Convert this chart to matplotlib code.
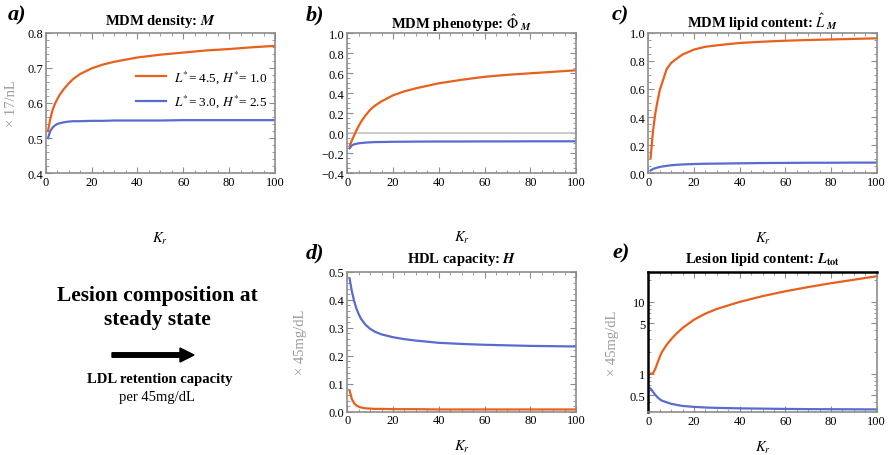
import numpy as np
import matplotlib
matplotlib.use("Agg")
import matplotlib.pyplot as plt
from matplotlib.ticker import MultipleLocator, FixedLocator, NullFormatter

plt.rcParams["font.family"] = ["Liberation Serif", "DejaVu Serif"]
plt.rcParams["mathtext.fontset"] = "stix"

ORANGE = "#e8601c"
BLUE = "#5a6bd0"
FRAME = "#8c8c8c"

# retention capacity K_r
kr = [1, 2, 3, 4, 5, 6, 8, 10, 12, 15, 20, 25, 30, 40, 50, 60, 70, 80, 90, 100]

# a) MDM density M
m_or = [0.520, 0.555, 0.580, 0.597, 0.610, 0.622, 0.640, 0.655, 0.668, 0.682, 0.698,
        0.709, 0.717, 0.729, 0.737, 0.743, 0.749, 0.753, 0.758, 0.762]
m_bl = [0.500, 0.520, 0.530, 0.536, 0.540, 0.542, 0.545, 0.547, 0.548, 0.548, 0.549,
        0.549, 0.550, 0.550, 0.550, 0.551, 0.551, 0.551, 0.551, 0.551]

# b) MDM phenotype
phi_or = [-0.13, -0.07, -0.02, 0.03, 0.075, 0.115, 0.18, 0.235, 0.275, 0.32, 0.38,
          0.42, 0.45, 0.50, 0.535, 0.565, 0.585, 0.60, 0.615, 0.63]
phi_bl = [-0.15, -0.12, -0.11, -0.105, -0.10, -0.097, -0.093, -0.09, -0.088, -0.087, -0.085,
          -0.084, -0.083, -0.082, -0.082, -0.081, -0.081, -0.080, -0.080, -0.080]

# c) MDM lipid content
lm_or = [0.11, 0.29, 0.42, 0.51, 0.59, 0.64, 0.74, 0.785, 0.81, 0.845, 0.88,
         0.90, 0.91, 0.927, 0.936, 0.943, 0.948, 0.952, 0.956, 0.96]
lm_bl = [0.020, 0.030, 0.036, 0.041, 0.045, 0.048, 0.053, 0.057, 0.060, 0.063, 0.066,
         0.068, 0.069, 0.071, 0.073, 0.074, 0.075, 0.075, 0.076, 0.076]

# d) HDL capacity H
h_or = [0.075, 0.045, 0.030, 0.022, 0.018, 0.015, 0.012, 0.011, 0.010, 0.010, 0.009,
        0.009, 0.009, 0.008, 0.008, 0.008, 0.008, 0.008, 0.008, 0.008]
h_bl = [0.475, 0.430, 0.395, 0.368, 0.348, 0.332, 0.310, 0.296, 0.286, 0.276, 0.266,
        0.259, 0.254, 0.246, 0.242, 0.239, 0.237, 0.235, 0.234, 0.233]

# e) lesion lipid content L_tot
lt_or = [1.0, 1.0, 1.15, 1.4, 1.7, 2.0, 2.5, 3.0, 3.5, 4.3, 5.6,
         6.8, 7.9, 9.9, 11.9, 13.9, 15.9, 18.0, 20.1, 22.5]
lt_bl = [0.62, 0.56, 0.51, 0.47, 0.44, 0.42, 0.40, 0.38, 0.37, 0.355, 0.345,
         0.338, 0.334, 0.329, 0.326, 0.323, 0.321, 0.320, 0.319, 0.318]

legend_labels = [r"$L^{*}$= 4.5, $H^{*}$= 1.0", r"$L^{*}$= 3.0, $H^{*}$= 2.5"]

W, H = 888, 456
fig = plt.figure(figsize=(W / 100, H / 100), dpi=100)


def px_axes(x0, y0, x1, y1):
    return fig.add_axes([x0 / W, 1 - y1 / H, (x1 - x0) / W, (y1 - y0) / H])


def style(ax, ylim, ymaj, ymin, ylab_x=None, ylabel=None):
    ax.set_xlim(0, 100)
    ax.set_ylim(*ylim)
    ax.xaxis.set_major_locator(MultipleLocator(20))
    ax.xaxis.set_minor_locator(MultipleLocator(5))
    if ymaj is not None:
        ax.yaxis.set_major_locator(MultipleLocator(ymaj))
        ax.yaxis.set_minor_locator(MultipleLocator(ymin))
    for s in ax.spines.values():
        s.set_color(FRAME)
        s.set_linewidth(1.2)
    ax.tick_params(which="both", direction="in", top=True, right=True,
                   color=FRAME, labelsize=9, pad=2)
    ax.tick_params(which="major", length=4, width=0.8)
    ax.tick_params(which="minor", length=2, width=0.6)
    ax.set_xlabel(r"$K_r$", fontsize=10.5)
    if ylabel:
        ax.set_ylabel(ylabel, color="#9a9a9a", fontsize=10.5)
        ax.yaxis.set_label_coords(ylab_x, 0.5)


def fmt1(v, pos):
    return f"{v:.1f}"


lw = 1.6
axes_px = {
    "a": (45.7, 33.5, 275, 174.3),
    "b": (347.3, 34.3, 576, 174.3),
    "c": (648.3, 33.7, 876.7, 174.3),
    "d": (347.3, 272.7, 576, 412.7),
    "e": (648.3, 272.7, 876.7, 413.3),
}
top_xlab = -0.40
bot_xlab = -0.19

# a
ax = px_axes(*axes_px["a"])
ax.plot(kr, m_or, color=ORANGE, lw=lw, label=legend_labels[0])
ax.plot(kr, m_bl, color=BLUE, lw=lw, label=legend_labels[1])
style(ax, (0.4, 0.8), 0.1, 0.02, -0.12, "× 17/nL")
ax.yaxis.set_major_formatter(fmt1)
ax.xaxis.set_label_coords(0.5, top_xlab)
ax.set_title(r"MDM density: $\boldsymbol{M}$", fontsize=10.5, fontweight="bold", pad=6)
ax.legend(loc="upper left", bbox_to_anchor=(0.34, 0.83), frameon=False, fontsize=9.5,
          handlelength=2.3, handletextpad=0.6, labelspacing=0.6)

# b
ax = px_axes(*axes_px["b"])
ax.axhline(0, color="#c4c4c4", lw=1.2)
ax.plot(kr, phi_or, color=ORANGE, lw=lw)
ax.plot(kr, phi_bl, color=BLUE, lw=lw)
style(ax, (-0.4, 1.0), 0.2, 0.05)
ax.yaxis.set_major_formatter(lambda v, p: f"{v:.1f}".replace("-", "\u2212"))
ax.xaxis.set_label_coords(0.5, top_xlab)
ax.set_title(r"MDM phenotype: $\boldsymbol{\hat{\Phi}}_{\ \boldsymbol{M}}$",
             fontsize=10.5, fontweight="bold", pad=4)

# c
ax = px_axes(*axes_px["c"])
ax.plot(kr, lm_or, color=ORANGE, lw=lw)
ax.plot(kr, lm_bl, color=BLUE, lw=lw)
style(ax, (0.0, 1.0), 0.2, 0.05)
ax.yaxis.set_major_formatter(fmt1)
ax.xaxis.set_label_coords(0.5, top_xlab)
ax.set_title(r"MDM lipid content: $\boldsymbol{\hat{L}}_{\ \boldsymbol{M}}$",
             fontsize=10.5, fontweight="bold", pad=4)

# d
ax = px_axes(*axes_px["d"])
ax.plot(kr, h_or, color=ORANGE, lw=lw)
ax.plot(kr, h_bl, color=BLUE, lw=lw)
style(ax, (0.0, 0.5), 0.1, 0.02, -0.175, "× 45mg/dL")
ax.yaxis.set_major_formatter(fmt1)
ax.xaxis.set_label_coords(0.5, bot_xlab)
ax.set_title(r"HDL capacity: $\boldsymbol{H}$", fontsize=10.5, fontweight="bold", pad=7)

# e
ax = px_axes(*axes_px["e"])
ax.plot(kr, lt_or, color=ORANGE, lw=lw)
ax.plot(kr, lt_bl, color=BLUE, lw=lw)
ax.set_yscale("log")
style(ax, (0.29, 26), None, None, -0.13, "× 45mg/dL")
ax.yaxis.set_major_locator(FixedLocator([0.5, 1, 5, 10]))
ax.yaxis.set_major_formatter(lambda v, p: f"{v:g}")
minors = [v * d for d in (0.1, 1, 10) for v in range(2, 10)]
ax.yaxis.set_minor_locator(FixedLocator(minors))
ax.yaxis.set_minor_formatter(NullFormatter())
ax.spines["left"].set_color("black")
ax.spines["top"].set_color("black")
ax.spines["left"].set_linewidth(1.8)
ax.spines["top"].set_linewidth(1.8)
ax.xaxis.set_label_coords(0.5, bot_xlab)
ax.set_title(r"Lesion lipid content: $\boldsymbol{L}_{\mathbf{tot}}$",
             fontsize=10.5, fontweight="bold", pad=7)

# panel letters
letters = {"a": (8, 15), "b": (306, 15), "c": (612, 15), "d": (306, 253), "e": (612, 253)}
for k, (x, y) in letters.items():
    fig.text(x / W, 1 - y / H, k + ")", fontsize=16, fontweight="bold",
             style="italic", va="center", ha="left")

# caption block on the left
fig.text(157 / W, 1 - 296 / H, "Lesion composition at", fontsize=15.5, fontweight="bold",
         ha="center", va="center")
fig.text(157 / W, 1 - 320 / H, "steady state", fontsize=15.5, fontweight="bold",
         ha="center", va="center")
fig.add_artist(matplotlib.patches.FancyArrow(112 / W, 1 - 356 / H, 68 / W, 0,
                                             width=4.5 / H, head_width=14 / H,
                                             head_length=14 / W, length_includes_head=False,
                                             color="black", transform=fig.transFigure))
fig.text(160 / W, 1 - 380 / H, "LDL retention capacity", fontsize=10.5, fontweight="bold",
         ha="center", va="center")
fig.text(157 / W, 1 - 398 / H, "per 45mg/dL", fontsize=10.5, ha="center", va="center")

fig.savefig("out.png", dpi=100)
